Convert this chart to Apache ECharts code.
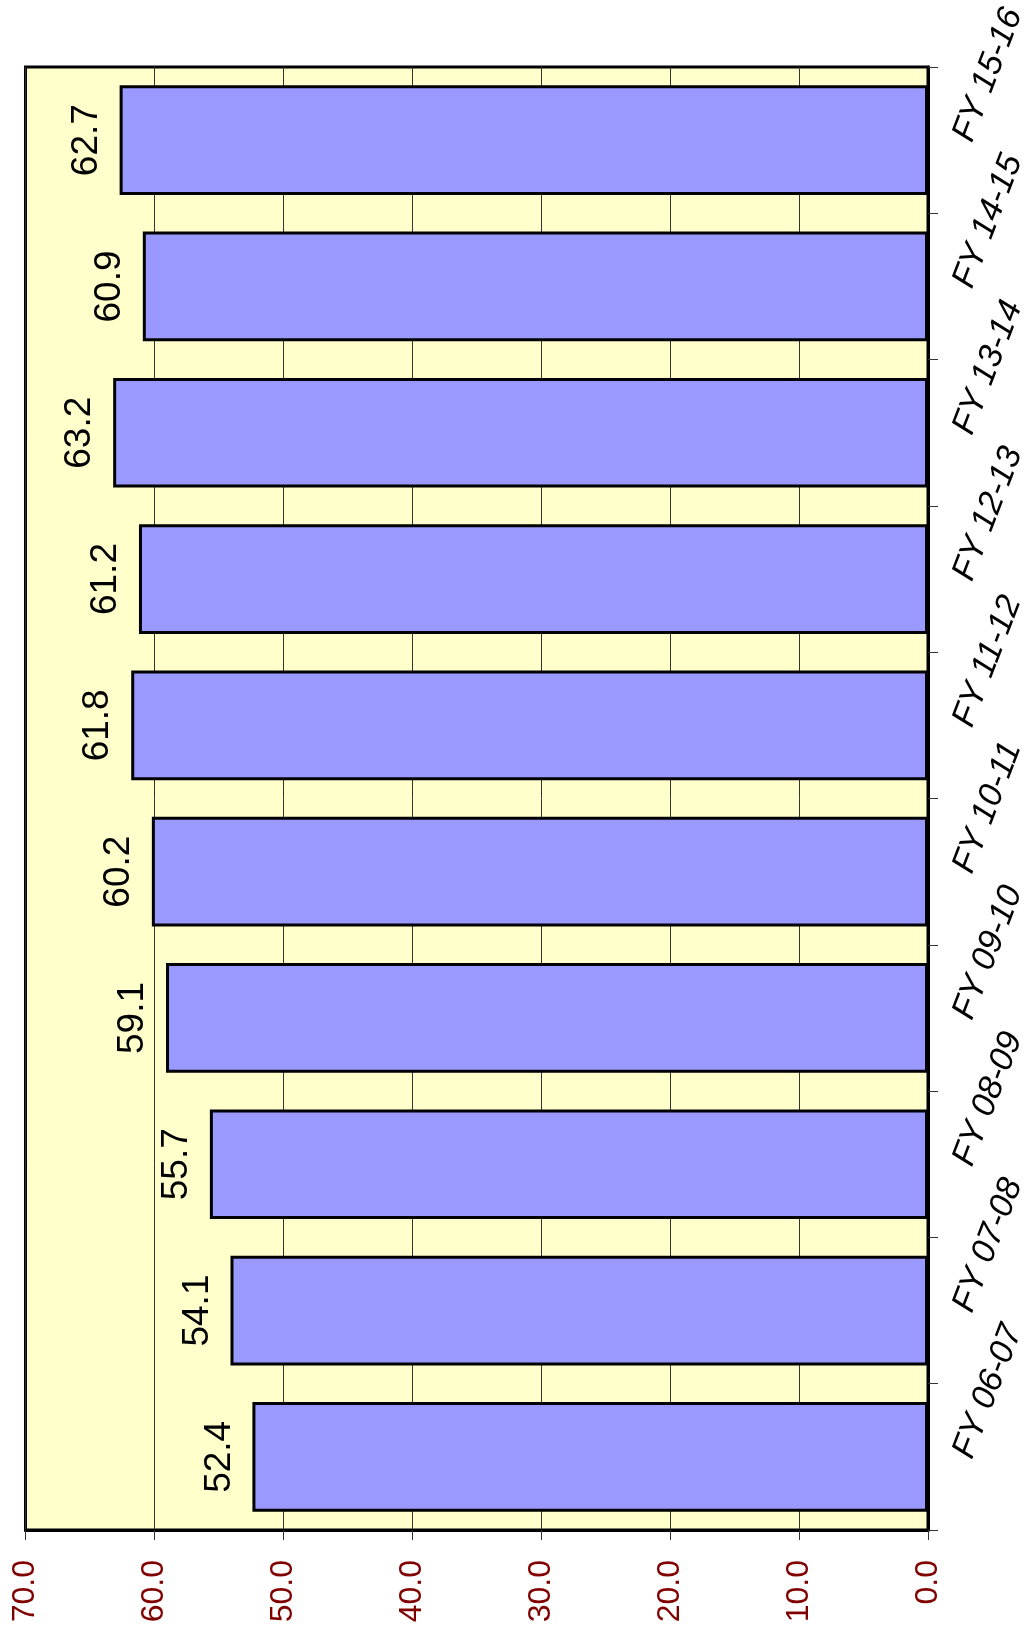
<!DOCTYPE html>
<html>
<head>
<meta charset="utf-8">
<script src="https://cdn.jsdelivr.net/npm/echarts@6/dist/echarts.min.js"></script>
<style>
html,body{margin:0;padding:0;background:#fff;}
#c{width:1024px;height:1633px;}
</style>
</head>
<body>
<div id="c"></div>
<script>
var categories = ['FY 06-07','FY 07-08','FY 08-09','FY 09-10','FY 10-11','FY 11-12','FY 12-13','FY 13-14','FY 14-15','FY 15-16'];
var values = [52.4, 54.1, 55.7, 59.1, 60.2, 61.8, 61.2, 63.2, 60.9, 62.7];
var axisMin = 0, axisMax = 70, axisStep = 10;

var chart = echarts.init(document.getElementById('c'), null, {renderer:'canvas'});
chart.setOption({
  animation: false,
  backgroundColor: '#ffffff',
  grid: {
    left: 25.5, right: 96, top: 67, bottom: 103,
    containLabel: false, outerBoundsMode: 'none',
    show: true, backgroundColor: '#FFFFCC', borderColor: '#000', borderWidth: 3
  },
  xAxis: {
    type: 'value', inverse: true, min: axisMin, max: axisMax, interval: axisStep,
    axisLine: {show: true, onZero: false, lineStyle: {color: '#000', width: 3}},
    axisTick: {show: true, length: 10, lineStyle: {color: '#333', width: 1}},
    splitLine: {show: true, lineStyle: {color: '#333', width: 1}},
    axisLabel: {
      rotate: 90, margin: 30, color: '#800000', fontSize: 32,
      fontFamily: 'Arial, Liberation Sans, sans-serif',
      formatter: function(v){ return v.toFixed(1); }
    }
  },
  yAxis: {
    type: 'category', position: 'right', data: categories,
    axisLine: {show: true, lineStyle: {color: '#000', width: 3}},
    axisTick: {show: true, length: 10, lineStyle: {color: '#333', width: 1}},
    splitLine: {show: false},
    axisLabel: {
      rotate: 69, margin: 35, color: '#000', fontSize: 34, fontStyle: 'italic',
      fontFamily: 'Arial, Liberation Sans, sans-serif'
    }
  },
  series: [{
    type: 'bar', data: values, barCategoryGap: '25%',
    itemStyle: {color: '#9999FF', borderColor: '#000', borderWidth: 3},
    label: {
      show: true, position: 'left', rotate: 90, distance: 33,
      align: 'center', verticalAlign: 'middle',
      color: '#000', fontSize: 37, fontFamily: 'Arial, Liberation Sans, sans-serif',
      formatter: function(p){ return p.value.toFixed(1); }
    }
  }]
});
</script>
</body>
</html>
